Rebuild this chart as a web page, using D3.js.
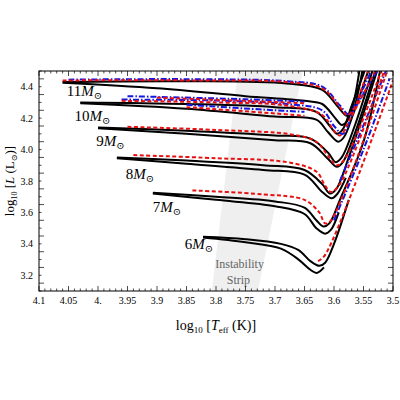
<!DOCTYPE html>
<html><head><meta charset="utf-8">
<script src="https://d3js.org/d3.v7.min.js"></script>
<style>body{margin:0;background:#fff}</style></head>
<body><svg id="c" width="400" height="400"></svg>
<script>
const xTicks=[4.1,4.05,4.0,3.95,3.9,3.85,3.8,3.75,3.7,3.65,3.6,3.55,3.5];
const xTickLabels=["4.1","4.05","4.","3.95","3.9","3.85","3.8","3.75","3.7","3.65","3.6","3.55","3.5"];
const yTicks=[3.2,3.4,3.6,3.8,4.0,4.2,4.4];
const yTickLabels=["3.2","3.4","3.6","3.8","4.0","4.2","4.4"];
const massLabels=["11","10","9","8","7","6"];
const labelPos=[[4.053,4.34],[4.04,4.18],[4.003,4.02],[3.953,3.815],[3.907,3.6],[3.853,3.37]];
const strip=[[3.807,3.1],[3.729,3.1],[3.653,4.5],[3.763,4.5]];
const black=[
[[4.06,4.43],[3.85,4.435],[3.68,4.42],[3.62,4.38],[3.595,4.28],[3.578,4.215],[3.568,4.25],[3.56,4.35],[3.552,4.5]],
[[4.06,4.425],[3.9,4.39],[3.75,4.34],[3.65,4.31],[3.62,4.29],[3.6,4.21],[3.587,4.157],[3.578,4.18],[3.568,4.28],[3.557,4.5]],
[[4.03,4.30],[3.85,4.29],[3.7,4.27],[3.63,4.24],[3.605,4.14],[3.595,4.10],[3.585,4.13],[3.57,4.28],[3.548,4.5]],
[[4.03,4.295],[3.85,4.26],[3.7,4.21],[3.63,4.19],[3.61,4.11],[3.593,4.05],[3.583,4.08],[3.568,4.22],[3.542,4.5]],
[[4.0,4.14],[3.85,4.12],[3.7,4.09],[3.64,4.07],[3.61,3.98],[3.597,3.92],[3.587,3.95],[3.565,4.15],[3.535,4.5]],
[[4.0,4.135],[3.85,4.10],[3.7,4.06],[3.64,4.04],[3.61,3.94],[3.595,3.89],[3.585,3.92],[3.565,4.1],[3.53,4.5]],
[[3.968,3.95],[3.85,3.93],[3.72,3.90],[3.65,3.87],[3.62,3.78],[3.607,3.72],[3.596,3.75],[3.575,3.95],[3.527,4.5]],
[[3.968,3.945],[3.85,3.91],[3.72,3.87],[3.65,3.84],[3.62,3.73],[3.604,3.69],[3.594,3.72],[3.58,3.82]],
[[3.907,3.725],[3.8,3.70],[3.7,3.67],[3.65,3.63],[3.63,3.55],[3.618,3.51],[3.608,3.53],[3.59,3.68],[3.55,4.05],[3.522,4.5]],
[[3.907,3.72],[3.8,3.68],[3.7,3.64],[3.65,3.59],[3.63,3.50],[3.615,3.465],[3.605,3.49],[3.592,3.6]],
[[3.822,3.445],[3.75,3.43],[3.69,3.40],[3.66,3.36],[3.64,3.29],[3.625,3.26],[3.615,3.28],[3.60,3.40],[3.575,3.68]],
[[3.822,3.44],[3.75,3.41],[3.69,3.37],[3.66,3.30],[3.64,3.235],[3.629,3.215],[3.617,3.25]]
];
const red=[
[[4.06,4.44],[3.85,4.44],[3.68,4.43],[3.62,4.39],[3.59,4.27],[3.578,4.22],[3.566,4.26],[3.552,4.4],[3.542,4.5]],
[[3.9,4.33],[3.75,4.31],[3.65,4.295]],
[[3.96,4.31],[3.8,4.30],[3.68,4.28],[3.62,4.22],[3.6,4.12],[3.59,4.09],[3.572,4.2],[3.53,4.5]],
[[3.85,4.27],[3.7,4.23],[3.65,4.215]],
[[3.95,4.145],[3.8,4.125],[3.67,4.095],[3.63,4.05],[3.61,3.96],[3.595,3.90],[3.58,3.95],[3.52,4.5]],
[[3.94,3.965],[3.8,3.945],[3.68,3.92],[3.63,3.86],[3.615,3.77],[3.605,3.73],[3.59,3.78],[3.515,4.5]],
[[3.84,3.74],[3.72,3.715],[3.65,3.68],[3.625,3.60],[3.615,3.53],[3.605,3.55],[3.51,4.5]],
[[3.627,3.29],[3.615,3.33],[3.5,4.44]]
];
const blue=[
[[4.05,4.445],[3.85,4.448],[3.68,4.435],[3.62,4.40],[3.59,4.28],[3.575,4.225],[3.562,4.3],[3.537,4.5]],
[[3.95,4.34],[3.75,4.32],[3.65,4.305]],
[[3.96,4.318],[3.8,4.312],[3.68,4.29],[3.62,4.25],[3.6,4.15],[3.585,4.1],[3.566,4.25],[3.527,4.5]],
[[3.85,4.285],[3.7,4.25],[3.65,4.24]],
[[3.59,3.80],[3.545,4.2],[3.512,4.5]],
[[3.60,3.55],[3.55,4.0],[3.506,4.45]]
];
const svg=d3.select("#c");
const L=39,R=393,T=71,B=291;
const x=d3.scaleLinear([4.1,3.5],[L,R]);
const y=d3.scaleLinear([3.1,4.5],[B,T]);
svg.append("defs").append("clipPath").attr("id","cp").append("rect").attr("x",L).attr("y",T).attr("width",R-L).attr("height",B-T);
const g=svg.append("g").attr("clip-path","url(#cp)");
g.append("path").attr("d",d3.line().x(d=>x(d[0])).y(d=>y(d[1]))(strip)+"Z").attr("fill","#efefef");
const serif="'Liberation Serif','DejaVu Serif',serif";
svg.append("text").attr("x",x(3.76)).attr("y",268).attr("text-anchor","middle").attr("font-family",serif).attr("font-size",12).attr("fill","#666").text("Instability");
svg.append("text").attr("x",x(3.762)).attr("y",284).attr("text-anchor","middle").attr("font-family",serif).attr("font-size",12).attr("fill","#666").text("Strip");
const ln=d3.line().x(d=>x(d[0])).y(d=>y(d[1])).curve(d3.curveCatmullRom);
black.forEach(p=>g.append("path").attr("d",ln(p)).attr("fill","none").attr("stroke","#000").attr("stroke-width",2));
blue.forEach(p=>g.append("path").attr("d",ln(p)).attr("fill","none").attr("stroke","#1515e0").attr("stroke-width",2).attr("stroke-dasharray","6,2,1.5,2"));
red.forEach(p=>g.append("path").attr("d",ln(p)).attr("fill","none").attr("stroke","#e81010").attr("stroke-width",2).attr("stroke-dasharray","4,2.5"));
massLabels.forEach((m,i)=>{
  const t=svg.append("text").attr("x",x(labelPos[i][0])).attr("y",y(labelPos[i][1])).attr("font-family",serif).attr("font-size",15);
  t.append("tspan").text(m);
  t.append("tspan").attr("font-style","italic").text("M");
  t.append("tspan").attr("font-size",10).attr("dy",3).text("⊙");
});
svg.append("rect").attr("x",L).attr("y",T).attr("width",R-L).attr("height",B-T).attr("fill","none").attr("stroke","#000").attr("stroke-width",1);
const xm=d3.range(0,61).map(i=>4.1-i*0.01);
xm.forEach((v,i)=>{const len=i%5==0?5:2.5;
  svg.append("line").attr("x1",x(v)).attr("x2",x(v)).attr("y1",B).attr("y2",B-len).attr("stroke","#000").attr("stroke-width",0.7);
  svg.append("line").attr("x1",x(v)).attr("x2",x(v)).attr("y1",T).attr("y2",T+len).attr("stroke","#000").attr("stroke-width",0.7);});
const ym=d3.range(0,29).map(i=>3.1+i*0.05);
ym.forEach((v,i)=>{const len=i%2==1?5:2.5;
  svg.append("line").attr("y1",y(v)).attr("y2",y(v)).attr("x1",L).attr("x2",L+len).attr("stroke","#000").attr("stroke-width",0.7);
  svg.append("line").attr("y1",y(v)).attr("y2",y(v)).attr("x1",R).attr("x2",R-len).attr("stroke","#000").attr("stroke-width",0.7);});
xTicks.forEach((v,i)=>svg.append("text").attr("x",x(v)).attr("y",B+13).attr("text-anchor","middle").attr("font-family",serif).attr("font-size",10).text(xTickLabels[i]));
yTicks.forEach((v,i)=>svg.append("text").attr("x",L-6).attr("y",y(v)+3.5).attr("text-anchor","end").attr("font-family",serif).attr("font-size",10).text(yTickLabels[i]));
const xl=svg.append("text").attr("x",216).attr("y",330).attr("text-anchor","middle").attr("font-family",serif).attr("font-size",14);
xl.append("tspan").text("log");xl.append("tspan").attr("font-size",9).attr("dy",3).text("10");
xl.append("tspan").attr("dy",-3).text(" [");xl.append("tspan").attr("font-style","italic").text("T");
xl.append("tspan").attr("font-size",9).attr("dy",3).text("eff");xl.append("tspan").attr("dy",-3).text(" (K)]");
const yl=svg.append("text").attr("transform","translate(14,181) rotate(-90)").attr("text-anchor","middle").attr("font-family",serif).attr("font-size",13);
yl.append("tspan").text("log");yl.append("tspan").attr("font-size",8).attr("dy",3).text("10");
yl.append("tspan").attr("dy",-3).text(" [");yl.append("tspan").attr("font-style","italic").text("L");
yl.append("tspan").text(" (L");yl.append("tspan").attr("font-size",8).attr("dy",3).text("⊙");yl.append("tspan").attr("dy",-3).text(")]");
</script></body></html>
